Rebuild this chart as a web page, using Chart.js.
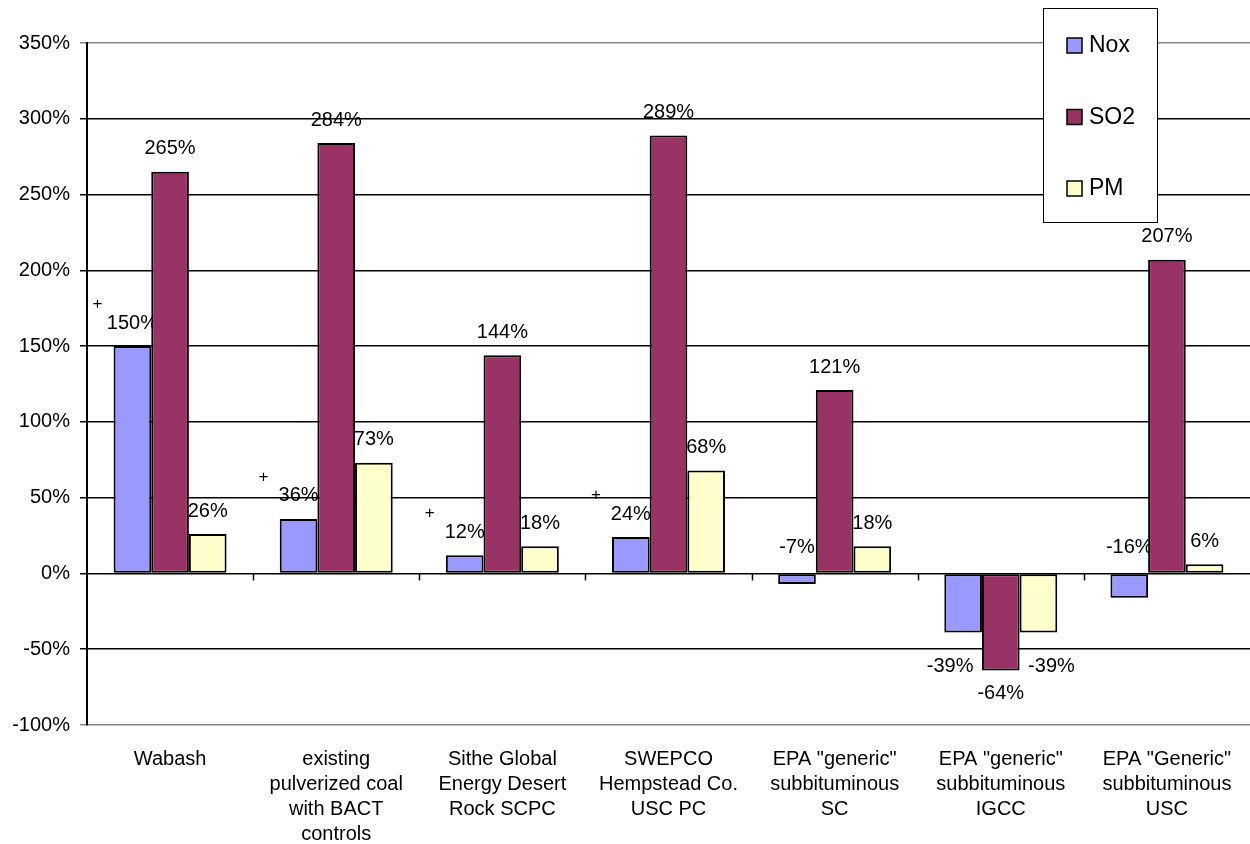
<!DOCTYPE html>
<html>
<head>
<meta charset="utf-8">
<script src="https://cdn.jsdelivr.net/npm/chart.js@4.4.0/dist/chart.umd.min.js"></script>
<style>
  html, body { margin: 0; padding: 0; background: #fff; }
  #wrap { width: 1250px; height: 844px; }
</style>
</head>
<body>
<div id="wrap"><canvas id="emissionsChart" width="1250" height="844"></canvas></div>
<script>
// categories and series (percent change)
const categories = [
  'Wabash',
  ['existing', 'pulverized coal', 'with BACT', 'controls'],
  ['Sithe Global', 'Energy Desert', 'Rock SCPC'],
  ['SWEPCO', 'Hempstead Co.', 'USC PC'],
  ['EPA "generic"', 'subbituminous', 'SC'],
  ['EPA "generic"', 'subbituminous', 'IGCC'],
  ['EPA "Generic"', 'subbituminous', 'USC']
];
const noxValues = [150, 36, 12, 24, -7, -39, -16];
const so2Values = [265, 284, 144, 289, 121, -64, 207];
const pmValues = [26, 73, 18, 68, 18, -39, 6];
const seriesNames = ['Nox', 'SO2', 'PM'];

const FONT = "'Liberation Sans', Arial, sans-serif";

// value labels, drawn before the bars so the tall SO2 bars cover them a little
const valueLabels = {
  id: 'valueLabels',
  beforeDatasetsDraw(chart) {
    const ctx = chart.ctx;
    const yScale = chart.scales.y;
    const zeroY = yScale.getPixelForValue(0);
    ctx.save();
    ctx.font = '20px ' + FONT;
    ctx.fillStyle = '#000';
    ctx.textAlign = 'center';
    ctx.textBaseline = 'middle';
    chart.data.datasets.forEach((ds, i) => {
      chart.getDatasetMeta(i).data.forEach((bar, j) => {
        const v = ds.data[j];
        let x = bar.x, y;
        if (v >= 0) y = bar.y - 23;
        else if (v > -20) y = zeroY - 26;
        else {
          // spread the labels under a group of negative bars
          y = bar.y + (i === 1 ? 23 : 34);
          x += (i - 1) * 13;
        }
        ctx.fillText(v + '%', x, y);
        if (i === 0 && v > 0) {
          ctx.font = '17px ' + FONT;
          ctx.fillText('+', x - 35, y - 19);
          ctx.font = '20px ' + FONT;
        }
      });
    });

    // small ticks on the zero line between the categories
    const xScale = chart.scales.x;
    const step = xScale.getPixelForValue(1) - xScale.getPixelForValue(0);
    ctx.strokeStyle = '#000';
    ctx.lineWidth = 1.5;
    for (let k = 1; k < categories.length; k++) {
      const x = Math.round(xScale.getPixelForValue(k) - step / 2) + 0.5;
      ctx.beginPath();
      ctx.moveTo(x, zeroY);
      ctx.lineTo(x, zeroY + 7);
      ctx.stroke();
    }
    ctx.restore();
  }
};

// boxed legend over the top right of the plot
const boxLegend = {
  id: 'boxLegend',
  afterDraw(chart) {
    const ctx = chart.ctx;
    const bx = 1043, by = 8, bw = 114, bh = 214;
    ctx.save();
    ctx.fillStyle = '#fff';
    ctx.fillRect(bx, by, bw, bh);
    ctx.strokeStyle = '#000';
    ctx.lineWidth = 1;
    ctx.strokeRect(bx + 0.5, by + 0.5, bw, bh);
    ctx.font = '23px ' + FONT;
    ctx.textBaseline = 'middle';
    ctx.textAlign = 'left';
    chart.data.datasets.forEach((ds, i) => {
      const cy = 45 + i * 71.5;
      ctx.fillStyle = ds.backgroundColor;
      ctx.fillRect(1067, cy - 7, 15, 15);
      ctx.lineWidth = 1.5;
      ctx.strokeRect(1067, cy - 7, 15, 15);
      ctx.fillStyle = '#000';
      ctx.fillText(ds.label, 1089, cy + 1);
    });
    ctx.restore();
  }
};

const ctx = document.getElementById('emissionsChart').getContext('2d');
new Chart(ctx, {
  type: 'bar',
  data: {
    labels: categories,
    datasets: [
      { label: seriesNames[0], data: noxValues, backgroundColor: '#9999FF' },
      { label: seriesNames[1], data: so2Values, backgroundColor: '#993366' },
      { label: seriesNames[2], data: pmValues, backgroundColor: '#FFFFCC' }
    ].map(d => Object.assign(d, {
      borderColor: '#000',
      borderWidth: 2,
      borderSkipped: false,
      barPercentage: 1,
      categoryPercentage: 0.68
    }))
  },
  options: {
    responsive: false,
    animation: false,
    devicePixelRatio: 1,
    layout: { padding: { top: 43, right: 0, left: 0, bottom: 0 } },
    plugins: {
      legend: { display: false },
      tooltip: { enabled: false }
    },
    scales: {
      x: {
        grid: { display: false, drawTicks: false },
        border: { display: false },
        ticks: {
          color: '#000',
          padding: 22,
          maxRotation: 0,
          autoSkip: false,
          font: { family: FONT, size: 20, lineHeight: 1.25 }
        },
        afterFit(scale) {
          scale.height = 119;
          scale.paddingLeft = 0;
          scale.paddingRight = 0;
        }
      },
      y: {
        min: -100,
        max: 350,
        grid: {
          color: c => (c.tick && (c.tick.value === 350 || c.tick.value === -100)) ? '#888' : '#000',
          lineWidth: 1.5,
          tickLength: 7
        },
        border: { color: '#000', width: 2 },
        ticks: {
          stepSize: 50,
          color: '#000',
          padding: 10,
          font: { family: FONT, size: 20 },
          callback: v => v + '%'
        },
        afterFit(scale) { scale.width = 87; }
      }
    }
  },
  plugins: [valueLabels, boxLegend]
});
</script>
</body>
</html>
